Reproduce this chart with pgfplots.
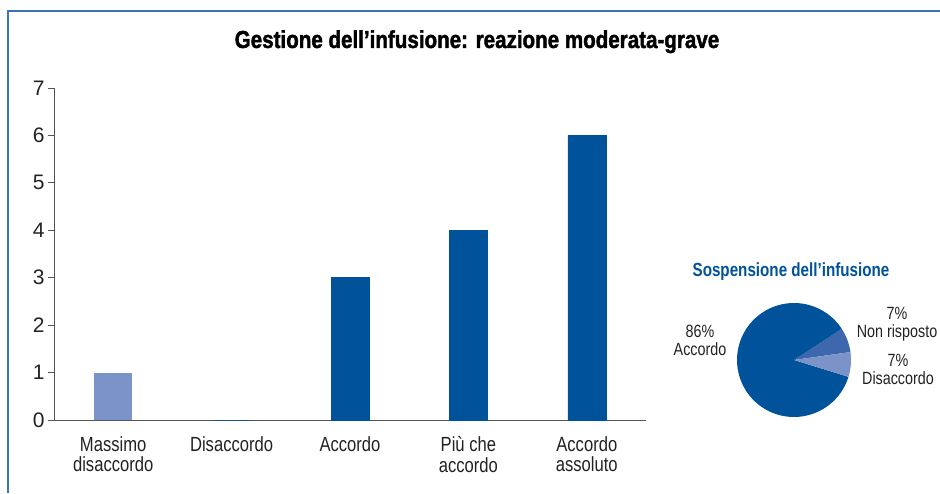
\documentclass[border=0pt]{standalone}
\usepackage{fontspec}
\setmainfont{Liberation Sans}[FakeStretch=0.81, BoldFeatures={FakeStretch=0.8}]
\newfontfamily\digitfont{Liberation Sans}
\newfontfamily\heavyfont{Liberation Sans Bold}[FakeStretch=0.84, FakeBold=1.6]
\usepackage{pgfplots}
\pgfplotsset{compat=1.18}

\definecolor{darkblue}{HTML}{00529B}
\definecolor{midblue}{HTML}{3E68AE}
\definecolor{lightblue}{HTML}{7B93C8}
\definecolor{frameblue}{HTML}{3A75B5}
\definecolor{axisgray}{HTML}{555555}
\definecolor{textgray}{HTML}{222222}

% pie shares (percent)
\def\pNonRisp{7}
\def\pAccordo{86}
\def\pDisacc{7}
\def\pStart{8}

\begin{document}
\begin{tikzpicture}[x=1pt,y=1pt]
\useasboundingbox (0,0) rectangle (940,493);

% frame
\draw[frameblue, line width=1.4] (8,0) -- (8,482) -- (940,482);

% title
\node[anchor=base, font=\fontsize{24.5}{26}\heavyfont, text=black] at (477,445)
  {Gestione dell’infusione: reazione moderata-grave};

\begin{axis}[
  at={(54pt,73pt)}, anchor=south west,
  scale only axis, width=592pt, height=332pt,
  xmin=-0.5, xmax=4.5, ymin=0, ymax=7,
  axis lines*=left,
  axis line style={axisgray, line width=1},
  xtick={0,...,4},
  xticklabels={Massimo\\disaccordo, Disaccordo, Accordo, Più che\\accordo, Accordo\\assoluto},
  x tick style={draw=none},
  minor xtick={-0.5,0.5,...,4.5},
  minor x tick style={axisgray, line width=1},
  minor tick length=8pt,
  ytick={0,...,7},
  y tick style={axisgray, line width=1},
  major tick length=6pt,
  tick align=outside,
  /pgf/number format/assume math mode=true,
  yticklabel style={font=\fontsize{21}{22}\digitfont, text=textgray},
  xticklabel style={font=\fontsize{20.5}{20.5}\selectfont, text=textgray, align=center, yshift=-7pt},
  ybar, bar width=38pt, bar shift=0pt,
  clip=false,
]
\addplot[fill=lightblue, draw=none] coordinates {(0,1)};
\addplot[fill=darkblue, draw=darkblue, line width=0.6] coordinates {(1,0) (2,3) (3,4) (4,6)};
\end{axis}

% pie title
\node[anchor=center, font=\fontsize{19}{20}\selectfont\bfseries, text=darkblue] at (791,221)
  {Sospensione dell’infusione};

\begin{axis}[
  at={(794pt,133pt)}, anchor=center,
  scale only axis, width=114pt, height=114pt,
  xmin=-1, xmax=1, ymin=-1, ymax=1,
  hide axis, clip=false,
]
\pgfmathsetmacro{\aA}{\pStart}
\pgfmathsetmacro{\aB}{\aA+3.6*\pNonRisp}
\pgfmathsetmacro{\aC}{\aB+3.6*\pAccordo}
\pgfmathsetmacro{\aD}{\aC+3.6*\pDisacc}
\addplot[fill=midblue, draw=none, domain=\aA:\aB, samples=12, variable=\t]
  ({cos(\t)},{sin(\t)}) -- (axis cs:0,0) -- cycle;
\addplot[fill=darkblue, draw=none, domain=\aB:\aC, samples=90, variable=\t]
  ({cos(\t)},{sin(\t)}) -- (axis cs:0,0) -- cycle;
\addplot[fill=lightblue, draw=none, domain=\aC:\aD, samples=12, variable=\t]
  ({cos(\t)},{sin(\t)}) -- (axis cs:0,0) -- cycle;
\end{axis}

% pie labels
\begin{scope}[every node/.style={align=center, text=textgray, font=\fontsize{17.7}{18}\selectfont}]
\node at (700,153) {86\%\\Accordo};
\node at (897,169) {7\%\\Non risposto};
\node at (898,124) {7\%\\Disaccordo};
\end{scope}
\end{tikzpicture}
\end{document}
